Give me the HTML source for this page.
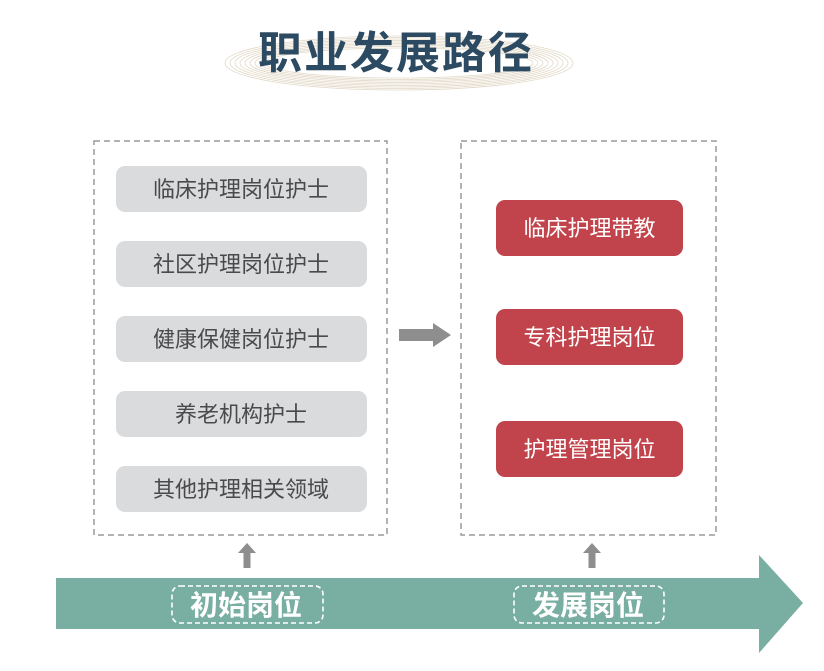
<!DOCTYPE html>
<html><head><meta charset="utf-8">
<style>
html,body{margin:0;padding:0;background:#fff;}
body{width:824px;height:671px;overflow:hidden;position:relative;}
svg{position:absolute;left:0;top:0;}
text{font-family:"Liberation Sans","Noto Sans CJK SC",sans-serif;}
</style></head>
<body>
<svg width="824" height="671" viewBox="0 0 824 671" xmlns="http://www.w3.org/2000/svg">
  <!-- title decoration -->
  <g fill="none" stroke="#e2d8c6" stroke-width="0.8">
    <ellipse cx="399" cy="63" rx="174" ry="27"/>
    <ellipse cx="399" cy="63" rx="169" ry="25.5"/>
    <ellipse cx="399" cy="63" rx="164" ry="24"/>
    <ellipse cx="399" cy="63" rx="159" ry="22.5"/>
    <ellipse cx="399" cy="63" rx="154" ry="21"/>
    <ellipse cx="399" cy="63" rx="149" ry="19.5"/>
    <ellipse cx="399" cy="63" rx="144" ry="18"/>
    <ellipse cx="399" cy="63" rx="139" ry="16.5"/>
    <ellipse cx="399" cy="63" rx="134" ry="15"/>
  </g>
  <text x="396" y="68" text-anchor="middle" font-size="44" font-weight="bold" fill="#2c4a62" letter-spacing="2">职业发展路径</text>

  <!-- dashed boxes -->
  <rect x="94" y="141" width="293" height="394" fill="none" stroke="#9a9a9a" stroke-width="1.5" stroke-dasharray="6 4"/>
  <rect x="461" y="141" width="255" height="394" fill="none" stroke="#9a9a9a" stroke-width="1.5" stroke-dasharray="6 4"/>

  <!-- gray boxes -->
  <g fill="#dadbdd">
    <rect x="116" y="166" width="251" height="46" rx="9"/>
    <rect x="116" y="241" width="251" height="46" rx="9"/>
    <rect x="116" y="316" width="251" height="46" rx="9"/>
    <rect x="116" y="391" width="251" height="46" rx="9"/>
    <rect x="116" y="466" width="251" height="46" rx="9"/>
  </g>
  <g font-size="22" fill="#4a4a4a" text-anchor="middle">
    <text x="241" y="197">临床护理岗位护士</text>
    <text x="241" y="272">社区护理岗位护士</text>
    <text x="241" y="347">健康保健岗位护士</text>
    <text x="241" y="422">养老机构护士</text>
    <text x="241" y="497">其他护理相关领域</text>
  </g>

  <!-- red boxes -->
  <g fill="#c1434b">
    <rect x="496" y="200" width="187" height="56" rx="9"/>
    <rect x="496" y="309" width="187" height="56" rx="9"/>
    <rect x="496" y="421" width="187" height="56" rx="9"/>
  </g>
  <g font-size="22" fill="#fff" text-anchor="middle">
    <text x="589.5" y="236">临床护理带教</text>
    <text x="589.5" y="345">专科护理岗位</text>
    <text x="589.5" y="457">护理管理岗位</text>
  </g>

  <!-- middle arrow -->
  <path d="M399 329 H433 V323 L451 335 L433 347 V341 H399 Z" fill="#8e8e8e"/>

  <!-- up arrows -->
  <path d="M243.5 568 V553 H238 L247 543 L256 553 H250.5 V568 Z" fill="#8e8e8e"/>
  <path d="M588.5 568 V553 H583 L592 543 L601 553 H595.5 V568 Z" fill="#8e8e8e"/>

  <!-- teal band arrow -->
  <path d="M56 578 H759 V555 L803 603 L759 653 V629 H56 Z" fill="#79aea2"/>

  <!-- label boxes -->
  <rect x="172" y="586" width="151" height="37" rx="8" fill="none" stroke="#fff" stroke-width="1.6" stroke-dasharray="5 3"/>
  <rect x="514" y="586" width="150" height="37" rx="8" fill="none" stroke="#fff" stroke-width="1.6" stroke-dasharray="5 3"/>
  <g font-size="28" font-weight="bold" fill="#fff" text-anchor="middle">
    <text x="246" y="615">初始岗位</text>
    <text x="588" y="615">发展岗位</text>
  </g>
</svg>
</body></html>
